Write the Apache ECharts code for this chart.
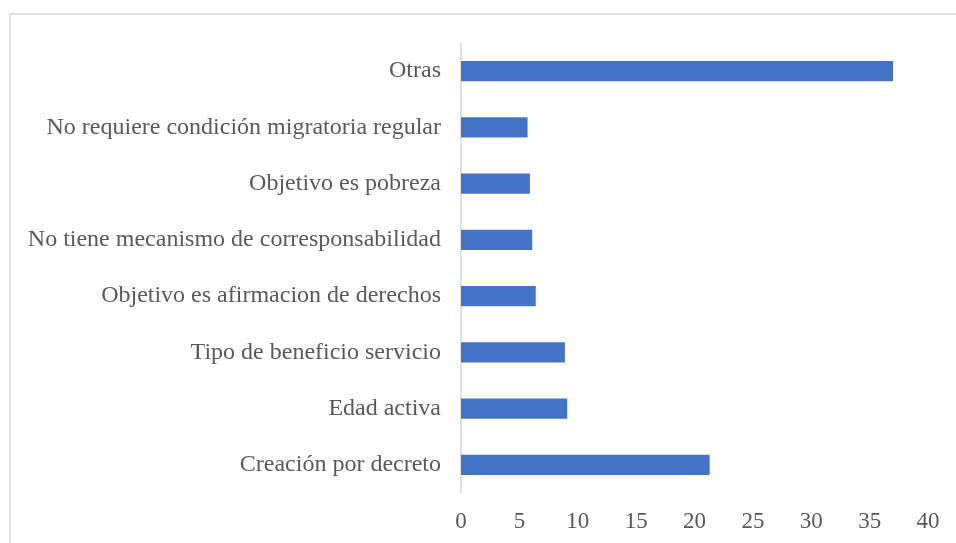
<!DOCTYPE html>
<html>
<head>
<meta charset="utf-8">
<script src="https://cdn.jsdelivr.net/npm/echarts@6/dist/echarts.min.js"></script>
<style>
	html, body { margin: 0; padding: 0; background: #fff; }
	#chart { width: 956px; height: 543px; }
</style>
</head>
<body>
<div id="chart"></div>
<script>
	// categorias (de abajo hacia arriba, como en el eje)
	var categories = [
		'Creación por decreto',
		'Edad activa',
		'Tipo de beneficio servicio',
		'Objetivo es afirmacion de derechos',
		'No tiene mecanismo de corresponsabilidad',
		'Objetivo es pobreza',
		'No requiere condición migratoria regular',
		'Otras'
	];
	var values = [21.3, 9.1, 8.9, 6.4, 6.1, 5.9, 5.7, 37];
	var xTicks = [0, 5, 10, 15, 20, 25, 30, 35, 40];

	var chart = echarts.init(document.getElementById('chart'));
	var textFont = '"Liberation Serif", "Times New Roman", serif';

	chart.setOption({
		animation: false,
		backgroundColor: '#fff',
		graphic: [{
			type: 'rect',
			shape: { x: 10, y: 14, width: 960, height: 540 },
			style: { fill: 'none', stroke: '#d9d9d9', lineWidth: 1.5 },
			silent: true
		}],
		grid: {
			left: 461,
			right: 28,
			top: 43,
			bottom: 50
		},
		xAxis: {
			type: 'value',
			min: xTicks[0],
			max: xTicks[xTicks.length - 1],
			interval: 5,
			axisLine: { show: false },
			axisTick: { show: false },
			splitLine: { show: false },
			axisLabel: {
				color: '#595959',
				fontFamily: textFont,
				fontSize: 23,
				margin: 17
			}
		},
		yAxis: {
			type: 'category',
			data: categories,
			axisLine: { show: true, lineStyle: { color: '#d9d9d9', width: 1.5 } },
			axisTick: { show: false },
			axisLabel: {
				color: '#595959',
				fontFamily: textFont,
				fontSize: 24,
				margin: 20
			}
		},
		series: [{
			type: 'bar',
			data: values,
			barCategoryGap: '64%',
			itemStyle: { color: '#4472c4' }
		}]
	});
</script>
</body>
</html>
